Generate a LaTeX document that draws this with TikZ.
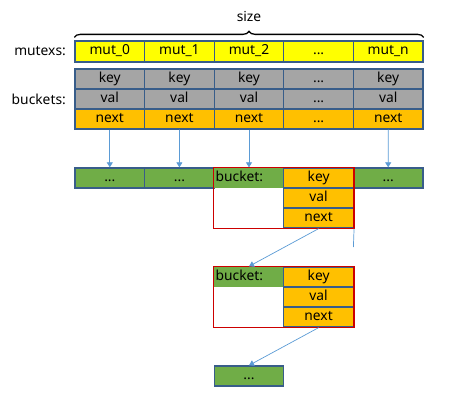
\documentclass[tikz,border=0pt]{standalone}
\usepackage{fontspec}
\setmainfont{Noto Sans}
\usepackage{tikz}
\usepackage{xcolor}
\usetikzlibrary{arrows.meta,decorations.pathreplacing}

\definecolor{cellborder}{RGB}{56,93,138}
\definecolor{mutyellow}{RGB}{255,255,0}
\definecolor{keygray}{RGB}{165,165,165}
\definecolor{nextorange}{RGB}{255,192,0}
\definecolor{bucketgreen}{RGB}{112,173,71}
\definecolor{boxred}{RGB}{204,0,0}
\definecolor{linkblue}{RGB}{91,155,213}
\newcommand{\dotstext}{...}

\begin{document}
\begin{tikzpicture}[x=1pt,y=-1pt,
    cell/.style={draw=cellborder,line width=1.3pt,minimum width=69.6pt,minimum height=20pt,inner sep=0pt,text height=9.5pt,text depth=3pt,font=\fontsize{13.8}{14}\selectfont},
    mutcell/.style={cell,fill=mutyellow,minimum height=21pt},
    graycell/.style={cell,fill=keygray},
    orangecell/.style={cell,fill=nextorange},
    greencell/.style={cell,fill=bucketgreen},
    headcell/.style={cell,draw=none,fill=bucketgreen,text width=66.6pt,inner xsep=1.5pt,align=left},
    redbox/.style={draw=boxred,line width=1.2pt},
    link/.style={linkblue,line width=0.7pt},
    arrow/.style={link,-{Triangle[width=6pt,length=5pt]}}]
    \useasboundingbox (0,0) rectangle (474,407);
    % mutexs
    \foreach \i/\t in {0/mut\_0,1/mut\_1,2/mut\_2,3/\dotstext,4/mut\_n} {
        \node[mutcell] (m\i) at (109.8+69.6*\i,51.5) {\t};
    }
    % buckets
    \foreach \i/\k/\v/\n in {0/key/val/next,1/key/val/next,2/key/val/next,3/\dotstext/\dotstext/\dotstext,4/key/val/next} {
        \node[graycell] (k\i) at (109.8+69.6*\i,79) {\k};
        \node[graycell] (v\i) at (109.8+69.6*\i,99) {\v};
        \node[orangecell] (n\i) at (109.8+69.6*\i,119) {\n};
    }
    % labels
    \node [anchor=east,font=\fontsize{13.8}{14}\selectfont] (mutexs) at ([xshift=-5pt]m0.west) {mutexs:};
    \node [anchor=east,font=\fontsize{13.8}{14}\selectfont] (buckets) at ([xshift=-5pt]v0.west) {buckets:};
    \draw[decorate,decoration={brace,amplitude=6pt},line width=1.3pt] ([yshift=3pt]m0.north west) -- ([yshift=3pt]m4.north east)
        node[midway,above=12pt,font=\fontsize{13.8}{14}\selectfont] (size) {size};
    % first level
    \node[greencell] (g0) at (109.8,178) {\dotstext};
    \node[greencell] (g1) at (179.4,178) {\dotstext};
    \node[headcell] (b1) at (249,178) {bucket:};
    \node[orangecell] (bk1) at (318.6,178) {key};
    \node[orangecell] (bv1) at (318.6,198) {val};
    \node[orangecell] (bn1) at (318.6,218) {next};
    \node[greencell] (g3) at (388.2,178) {\dotstext};
    \draw[redbox] (b1.north west) rectangle (bn1.south east);
    % second level
    \node[headcell] (b2) at (249,277) {bucket:};
    \node[orangecell] (bk2) at (318.6,277) {key};
    \node[orangecell] (bv2) at (318.6,297) {val};
    \node[orangecell] (bn2) at (318.6,317) {next};
    \draw[redbox] (b2.north west) rectangle (bn2.south east);
    \node[greencell] (d) at (249,376) {\dotstext};
    % links
    \foreach \i/\t in {0/g0,1/g1,2/b1,4/g3} {
        \draw[arrow] (n\i.south) -- (\t.north);
    }
    \coordinate (tail) at (353.4,247);
    \draw[link] (bn1.south east) -- (tail);
    \draw[arrow] (bn1.south) -- (b2.north);
    \draw[arrow] (bn2.south) -- (d.north);
\end{tikzpicture}
\end{document}
